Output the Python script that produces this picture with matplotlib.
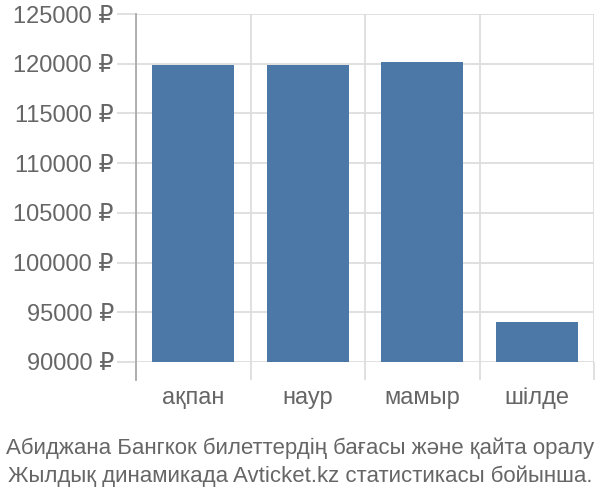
import matplotlib
matplotlib.use("Agg")
import matplotlib.pyplot as plt
import numpy as np

plt.rcParams['font.family'] = ['Liberation Sans', 'DejaVu Sans']

months = ["ақпан", "наур", "мамыр", "шілде"]
prices = [119900, 119900, 120200, 94000]
yticks = [90000, 95000, 100000, 105000, 110000, 115000, 120000, 125000]
caption = ("Абиджана Бангкок билеттердің бағасы және қайта оралу\n"
           "Жылдық динамикада Avticket.kz статистикасы бойынша.")

grey = "#666666"
grid = "#dddddd"

fig = plt.figure(figsize=(6, 5), dpi=100)
ax = fig.add_axes([136/600, 1-362/500, 458/600, 348/500])

x = np.arange(len(months))
ax.bar(x, prices, width=0.72, color="#4c78a8", zorder=3)

ax.set_xlim(-0.5, len(months) - 0.5)
ax.set_ylim(90000, 125000)

ax.set_yticks(yticks)
ax.set_yticklabels([f"{v} ₽" for v in yticks])
ax.set_xticks(x)
ax.set_xticklabels(months)
ax.set_xticks(np.arange(len(months) + 1) - 0.5, minor=True)

ax.yaxis.grid(True, color=grid, linewidth=1.3, zorder=0)
ax.xaxis.grid(True, which="minor", color=grid, linewidth=1.3, zorder=0)

ax.tick_params(axis="y", length=14, color=grid, width=1.3, pad=2,
               labelsize=17, labelcolor=grey)
ax.tick_params(axis="x", which="major", length=0, pad=18,
               labelsize=17, labelcolor=grey)
ax.tick_params(axis="x", which="minor", length=13, color=grid, width=1.3)

for s in ["top", "right", "bottom"]:
    ax.spines[s].set_visible(False)
ax.spines["left"].set_color("#aaaaaa")
ax.spines["left"].set_linewidth(1.3)
ax.spines["left"].set_bounds(88190, 125000)

fig.text(0.5, 1-462/500, caption, ha="center", va="center",
         fontsize=16, color=grey, linespacing=1.4)

fig.savefig("out.png", dpi=100)
